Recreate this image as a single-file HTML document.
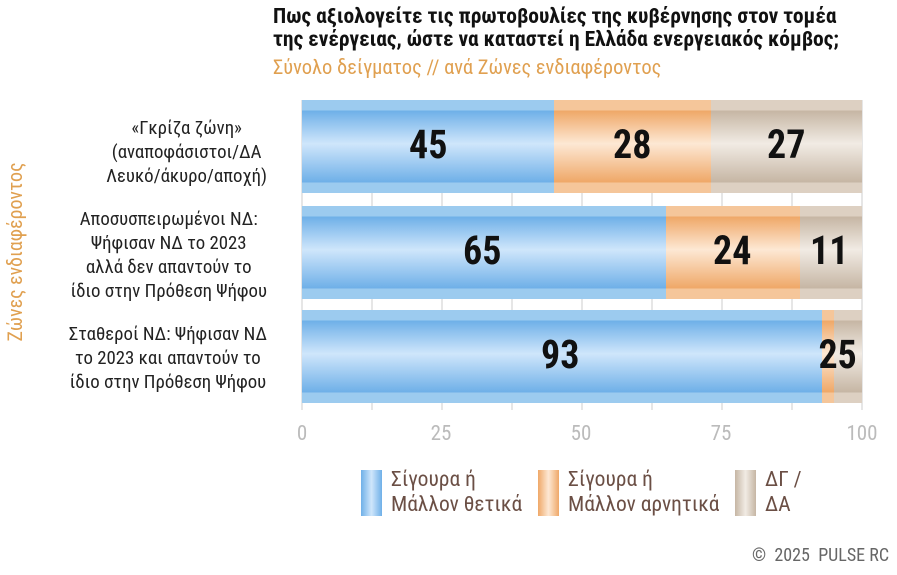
<!DOCTYPE html>
<html><head><meta charset="utf-8"><style>
body{margin:0;width:897px;height:575px;background:#fff;font-family:"Roboto Condensed","Liberation Sans Narrow","Liberation Sans",sans-serif;position:relative;overflow:hidden}
.a{position:absolute}
.t{left:273px;top:5px;font-weight:bold;font-size:21.5px;line-height:23px;color:#111;white-space:nowrap}
.st{left:273px;top:56px;font-size:20.5px;color:#e0a050;white-space:nowrap}
.g{top:100px;height:310px;width:0;border-left:2px solid #e6e6e6}
.bar{left:302px;width:560px;height:93px}
.s{position:absolute;top:0;height:100%}
.b{background:linear-gradient(#9ccbef 0,#9ccbef 10px,#6fb0e8 11px,#cfe6fb 47%,#6fb0e8 calc(100% - 11px),#9ccbef calc(100% - 10px))}
.o{background:linear-gradient(#f5c69a 0,#f5c69a 10px,#efa868 11px,#fde8d4 47%,#efa868 calc(100% - 11px),#f5c69a calc(100% - 10px))}
.n{background:linear-gradient(#ddd0c2 0,#ddd0c2 10px,#c6b6a4 11px,#f1ebe4 47%,#c6b6a4 calc(100% - 11px),#ddd0c2 calc(100% - 10px))}
.v{position:absolute;font-weight:bold;font-size:40px;color:#111;top:21px;transform:scaleX(.95);transform-origin:center}
.lab{right:630px;text-align:center;font-size:18.8px;line-height:24px;color:#222;white-space:nowrap}
.tick{top:422px;font-size:21px;color:#bbb;width:40px;text-align:center}
.lg{top:467px;font-size:21.5px;line-height:25px;color:#6b4f45;white-space:nowrap}
.sw{top:470px;width:21px;height:46px}
</style></head><body>
<div class="a t">Πως αξιολογείτε τις πρωτοβουλίες της κυβέρνησης στον τομέα<br>της ενέργειας, ώστε να καταστεί η Ελλάδα ενεργειακός κόμβος;</div>
<div class="a st">Σύνολο δείγματος // ανά Ζώνες ενδιαφέροντος</div>
<div class="a" style="left:-135px;top:240px;width:300px;text-align:center;transform:rotate(-90deg);font-size:20px;color:#e0a050;white-space:nowrap">Ζώνες ενδιαφέροντος</div>
<div class="a g" style="left:301px"></div><div class="a g" style="left:371px"></div><div class="a g" style="left:441px"></div><div class="a g" style="left:511px"></div><div class="a g" style="left:581px"></div><div class="a g" style="left:651px"></div><div class="a g" style="left:721px"></div><div class="a g" style="left:791px"></div><div class="a g" style="left:861px"></div>
<div class="a bar" style="top:100px"><div class="s b" style="left:0;width:252px"></div><div class="s o" style="left:252px;width:157px"></div><div class="s n" style="left:409px;width:151px"></div>
<div class="v" style="left:106px">45</div><div class="v" style="left:310px">28</div><div class="v" style="left:464px">27</div></div>
<div class="a bar" style="top:206px"><div class="s b" style="left:0;width:364px"></div><div class="s o" style="left:364px;width:134px"></div><div class="s n" style="left:498px;width:62px"></div>
<div class="v" style="left:160px">65</div><div class="v" style="left:410px">24</div><div class="v" style="left:507px">11</div></div>
<div class="a bar" style="top:310px"><div class="s b" style="left:0;width:520px"></div><div class="s o" style="left:520px;width:12px"></div><div class="s n" style="left:532px;width:28px"></div>
<div class="v" style="left:238px">93</div><div class="v" style="left:516px">2</div><div class="v" style="left:535px">5</div></div>
<div class="a lab" style="top:116px">«Γκρίζα ζώνη»<br>(αναποφάσιστοι/ΔΑ<br>Λευκό/άκυρο/αποχή)</div>
<div class="a lab" style="top:207px">Αποσυσπειρωμένοι ΝΔ:<br>Ψήφισαν ΝΔ το 2023<br>αλλά δεν απαντούν το<br>ίδιο στην Πρόθεση Ψήφου</div>
<div class="a lab" style="top:322px">Σταθεροί ΝΔ: Ψήφισαν ΝΔ<br>το 2023 και απαντούν το<br>ίδιο στην Πρόθεση Ψήφου</div>
<div class="a tick" style="left:282px">0</div><div class="a tick" style="left:421px">25</div><div class="a tick" style="left:561px">50</div><div class="a tick" style="left:701px">75</div><div class="a tick" style="left:842px">100</div>
<div class="a sw" style="left:361px;background:linear-gradient(90deg,#6fb0e8,#cfe6fb 50%,#6fb0e8)"></div>
<div class="a lg" style="left:391px">Σίγουρα ή<br>Μάλλον θετικά</div>
<div class="a sw" style="left:538px;background:linear-gradient(90deg,#efa868,#fde8d4 50%,#efa868)"></div>
<div class="a lg" style="left:568px">Σίγουρα ή<br>Μάλλον αρνητικά</div>
<div class="a sw" style="left:735px;background:linear-gradient(90deg,#c6b6a4,#f1ebe4 50%,#c6b6a4)"></div>
<div class="a lg" style="left:765px">ΔΓ /<br>ΔΑ</div>
<div class="a" style="left:752px;top:545px;font-size:18px;color:#666;white-space:nowrap">©&nbsp; 2025&nbsp; PULSE RC</div>
</body></html>
